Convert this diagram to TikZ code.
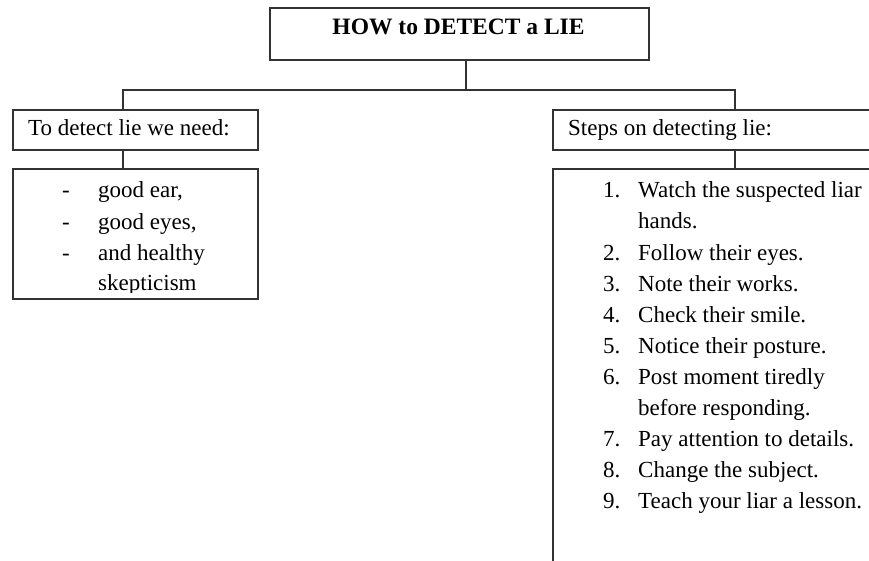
\documentclass[tikz,border=0pt]{standalone}
\usepackage{fontspec}
\setmainfont{Liberation Serif}
\begin{document}
\begin{tikzpicture}[x=1pt,y=-1pt,
  box/.style={draw=black!80, line width=1.7pt, rectangle, inner sep=0pt, anchor=north west},
  conn/.style={draw=black!80, line width=1.7pt},
  txt/.style={anchor=base west, inner sep=0pt, font=\fontsize{23}{28}\selectfont},
  ttl/.style={anchor=base, inner sep=0pt, font=\fontsize{23.5}{28}\selectfont\bfseries}]
\clip (0,0) rectangle (869,560);
\fill[white] (0,0) rectangle (869,560);
% boxes
\node[box, minimum width=379pt, minimum height=52pt] (title) at (269,7) {};
\node[box, minimum width=245pt, minimum height=40pt] (lhead) at (12,109) {};
\node[box, minimum width=245pt, minimum height=130pt] (llist) at (12,168) {};
\node[box, minimum width=345pt, minimum height=420pt] (rhead2) at (552,168) {};
\node[box, minimum width=345pt, minimum height=40pt] (rhead) at (552,109) {};
% connector points
\coordinate (bus) at (466,90);
\coordinate (lx) at (123,90);
\coordinate (rx) at (735,90);
\draw[conn] (title.south -| bus) -- (bus);
\draw[conn] (lhead.north -| lx) -- (lx) -- (rx) -- (rhead.north -| rx);
\draw[conn] (lhead.south -| lx) -- (llist.north -| lx);
\draw[conn] (rhead.south -| rx) -- (rhead2.north -| rx);
% texts
\node[ttl] (t0) at (458.5,34) {HOW to DETECT a LIE};
\node[txt] (lh) at (28,135) {To detect lie we need:};
\node[txt] (rh) at (568,135) {Steps on detecting lie:};
\begin{scope}
\clip (12,168) rectangle (257,292);
\node[txt] (d1) at (62,197) {-};
\node[txt] (l1) at (98,197) {good ear,};
\node[txt] (d2) at (62,229) {-};
\node[txt] (l2) at (98,229) {good eyes,};
\node[txt] (d3) at (62,260) {-};
\node[txt] (l3) at (98,260) {and healthy};
\node[txt] (l4) at (98,290) {skepticism};
\end{scope}
\node[txt] (n1) at (603,197) {1.};
\node[txt] (s1) at (638,197) {Watch the suspected liar};
\node[txt] (s1b) at (638,228) {hands.};
\node[txt] (n2) at (603,260) {2.};
\node[txt] (s2) at (638,260) {Follow their eyes.};
\node[txt] (n3) at (603,291) {3.};
\node[txt] (s3) at (638,291) {Note their works.};
\node[txt] (n4) at (603,322) {4.};
\node[txt] (s4) at (638,322) {Check their smile.};
\node[txt] (n5) at (603,353) {5.};
\node[txt] (s5) at (638,353) {Notice their posture.};
\node[txt] (n6) at (603,384) {6.};
\node[txt] (s6) at (638,384) {Post moment tiredly};
\node[txt] (s6b) at (638,415) {before responding.};
\node[txt] (n7) at (603,446) {7.};
\node[txt] (s7) at (638,446) {Pay attention to details.};
\node[txt] (n8) at (603,477) {8.};
\node[txt] (s8) at (638,477) {Change the subject.};
\node[txt] (n9) at (603,508) {9.};
\node[txt] (s9) at (638,508) {Teach your liar a lesson.};
\end{tikzpicture}
\end{document}
